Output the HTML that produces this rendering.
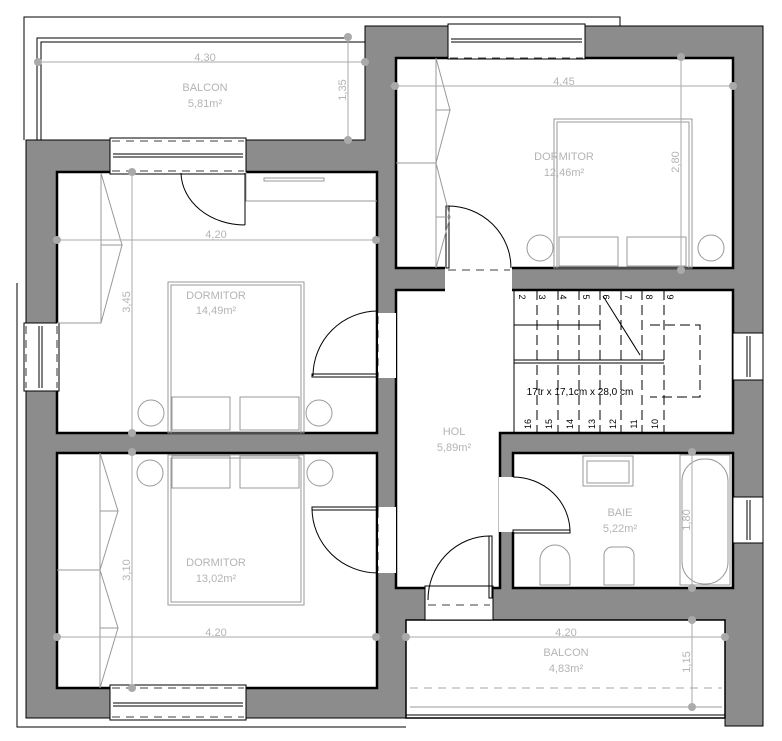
<!DOCTYPE html>
<html><head><meta charset="utf-8"><style>
html,body{margin:0;padding:0;background:#fff;}
svg{display:block;}
text{font-family:"Liberation Sans",sans-serif;fill:#b4b4b4;font-size:11px;text-anchor:middle;}
text.blk{fill:#000;font-size:9px;}
</style></head><body>
<svg width="782" height="741" viewBox="0 0 782 741" xmlns="http://www.w3.org/2000/svg">
<g fill="none" stroke="#000" stroke-width="1">
<polyline points="24,140 24,17 620,17 620,26"/>
<polyline points="17,283 17,727 406,727"/>
<polyline points="37,140 37,38 348,38"/>
<polyline points="41,140 41,42 365,42"/>
</g>
<polygon points="26,140 365,140 365,26 763,26 763,726 725,726 725,620 406,620 406,718 26,718" fill="#8c8c8c" stroke="#000" stroke-width="1"/>
<g fill="#fff" stroke="#000" stroke-width="2.5">
<rect x="57" y="172" width="320" height="261"/>
<rect x="57" y="453" width="320" height="235"/>
<rect x="396" y="58" width="337" height="210"/>
<polygon points="396,290 733,290 733,433 500,433 500,588 396,588"/>
<rect x="513" y="453" width="220" height="135"/>
</g>
<rect x="406" y="620" width="319" height="98" fill="#fff" stroke="#000" stroke-width="1.5"/>
<g fill="#fff" stroke="#000" stroke-width="1">
<rect x="110" y="138" width="136" height="36"/>
<rect x="448" y="24" width="137" height="35"/>
<rect x="24" y="323" width="35" height="68"/>
<rect x="110" y="685" width="136" height="35"/>
<rect x="733" y="333" width="30" height="47"/>
<rect x="733" y="497" width="30" height="46"/>
<rect x="378" y="313" width="18" height="65" stroke="none"/>
<rect x="378" y="507" width="18" height="66" stroke="none"/>
<rect x="445" y="266" width="67" height="26" stroke="none"/>
<rect x="499" y="477" width="16" height="55" stroke="none"/>
<rect x="425" y="586" width="68" height="34"/>
</g>
<g fill="none" stroke="#000" stroke-width="1">
<line x1="113" y1="154" x2="243" y2="154"/><line x1="113" y1="157" x2="243" y2="157"/>
<line x1="451" y1="39" x2="582" y2="39"/><line x1="451" y1="42" x2="582" y2="42"/>
<line x1="39" y1="326" x2="39" y2="388"/><line x1="42" y1="326" x2="42" y2="388"/>
<line x1="113" y1="703" x2="243" y2="703"/><line x1="113" y1="706" x2="243" y2="706"/>
<line x1="747" y1="336" x2="747" y2="377"/><line x1="750" y1="336" x2="750" y2="377"/>
<line x1="747" y1="500" x2="747" y2="540"/><line x1="750" y1="500" x2="750" y2="540"/>
</g>
<g fill="none" stroke="#000" stroke-width="0.8" stroke-dasharray="8,6">
<line x1="112" y1="141" x2="244" y2="141"/><line x1="112" y1="171" x2="244" y2="171"/>
<line x1="450" y1="58" x2="583" y2="58"/>
<line x1="112" y1="688" x2="244" y2="688"/><line x1="112" y1="717" x2="244" y2="717"/>
<line x1="26" y1="326" x2="26" y2="388"/><line x1="57" y1="326" x2="57" y2="388"/>
<line x1="378" y1="316" x2="378" y2="376"/><line x1="378" y1="510" x2="378" y2="571"/>
<line x1="448" y1="270" x2="510" y2="270"/><line x1="428" y1="605" x2="490" y2="605"/>
<line x1="410" y1="688" x2="722" y2="688" stroke="#888"/>
</g>
<g fill="none" stroke="#000" stroke-width="1">
<path d="M181,173 A64,53 0 0 0 245,225"/><line x1="245" y1="173" x2="245" y2="225"/>
<path d="M313,376 A65,65 0 0 1 378,311"/><rect x="312" y="374" width="66" height="3"/>
<path d="M312,508 A66,65 0 0 0 378,573"/><rect x="312" y="507" width="66" height="3"/>
<path d="M448,206 A63,62 0 0 1 511,268"/><rect x="446" y="206" width="3" height="62"/>
<path d="M513,477 A57,55 0 0 1 570,532"/><rect x="513" y="530" width="57" height="3"/>
<path d="M428,600 A62,64 0 0 1 490,536"/><rect x="489" y="536" width="3" height="62"/>
</g>
<g fill="none" stroke="#999" stroke-width="1">
<rect x="168" y="282" width="136" height="151"/><rect x="171" y="285" width="130" height="148"/>
<rect x="172" y="397" width="58" height="33"/><rect x="240" y="397" width="59" height="33"/>
<circle cx="151" cy="413" r="13"/><circle cx="319" cy="413" r="13"/>
<rect x="168" y="455" width="136" height="150"/><rect x="171" y="458" width="130" height="144"/>
<rect x="172" y="456" width="58" height="32"/><rect x="240" y="456" width="59" height="32"/>
<circle cx="150" cy="473" r="13"/><circle cx="320" cy="473" r="13"/>
<rect x="554" y="119" width="138" height="149"/><rect x="557" y="122" width="132" height="146"/>
<rect x="559" y="237" width="59" height="29"/><rect x="627" y="237" width="59" height="29"/>
<circle cx="540" cy="248" r="13"/><circle cx="711" cy="248" r="13"/>
<polyline points="101,173 101,323 57,323"/><polyline points="101,173 122,245 101,245 122,245 101,323"/>
<polyline points="100,453 100,688"/><polyline points="57,570 100,570"/>
<polyline points="100,453 118,511 100,511 118,511 100,570 118,628 100,628 118,628 100,688"/>
<polyline points="436,58 436,268"/><polyline points="396,163 436,163"/>
<polyline points="436,58 450,110 436,110 450,110 436,163 450,217 436,217 450,217 436,268"/>
<polyline points="246,172 246,201 377,201"/>
<rect x="264" y="178" width="60" height="3"/>
<rect x="583" y="456" width="50" height="30"/><rect x="587" y="461" width="42" height="22"/>
<rect x="680" y="455" width="50" height="130"/><rect x="682" y="459" width="46" height="125" rx="22"/>
<path d="M540,585 V560 a15,15 0 0 1 30,0 V585 Z"/>
<path d="M604,585 V555 a8,8 0 0 1 8,-8 h14 a8,8 0 0 1 8,8 V585 Z"/>
<line x1="410" y1="707" x2="722" y2="707"/><line x1="406" y1="715" x2="725" y2="715" stroke="#000"/>
</g>
<g stroke="#000" stroke-width="1" fill="none">
<line x1="514" y1="360" x2="664" y2="360"/><line x1="514" y1="363" x2="664" y2="363"/>
<line x1="514" y1="290" x2="514" y2="433"/>
<g stroke-dasharray="10,5">
<line x1="537" y1="290" x2="537" y2="433"/><line x1="558" y1="290" x2="558" y2="433"/>
<line x1="579" y1="290" x2="579" y2="433"/><line x1="600" y1="290" x2="600" y2="433"/>
<line x1="621" y1="290" x2="621" y2="433"/><line x1="642" y1="290" x2="642" y2="433"/>
<line x1="664" y1="290" x2="664" y2="433"/>
<polyline points="650,325 700,325 700,397 650,397"/>
</g>
<line x1="514" y1="325" x2="600" y2="325"/>
<line x1="603" y1="296" x2="640" y2="355"/>
</g>
<text class="blk" x="522" y="300" transform="rotate(90 522 297)">2</text>
<text class="blk" x="542" y="300" transform="rotate(90 542 297)">3</text><text class="blk" x="563" y="300" transform="rotate(90 563 297)">4</text>
<text class="blk" x="586" y="300" transform="rotate(90 586 297)">5</text><text class="blk" x="606" y="300" transform="rotate(90 606 297)">6</text>
<text class="blk" x="628" y="300" transform="rotate(90 628 297)">7</text><text class="blk" x="649" y="300" transform="rotate(90 649 297)">8</text>
<text class="blk" x="670" y="300" transform="rotate(90 670 297)">9</text>
<text class="blk" x="531" y="424" transform="rotate(-90 531 424)">16</text><text class="blk" x="552" y="424" transform="rotate(-90 552 424)">15</text>
<text class="blk" x="573" y="424" transform="rotate(-90 573 424)">14</text><text class="blk" x="595" y="424" transform="rotate(-90 595 424)">13</text>
<text class="blk" x="616" y="424" transform="rotate(-90 616 424)">12</text><text class="blk" x="637" y="424" transform="rotate(-90 637 424)">11</text>
<text class="blk" x="658" y="424" transform="rotate(-90 658 424)">10</text>
<text class="blk" x="580" y="395" style="font-size:10px">17tr x 17,1cm x 28,0 cm</text>
<g stroke="#aaa" stroke-width="1" fill="none">
<line x1="38" y1="62" x2="365" y2="62"/><line x1="348" y1="36" x2="348" y2="140"/>
<line x1="57" y1="240" x2="376" y2="240"/><line x1="132" y1="170" x2="132" y2="435"/>
<line x1="57" y1="637" x2="376" y2="637"/><line x1="132" y1="452" x2="132" y2="688"/>
<line x1="390" y1="86" x2="736" y2="86"/><line x1="681" y1="55" x2="681" y2="270"/>
<line x1="692" y1="452" x2="692" y2="589"/>
<line x1="406" y1="637" x2="725" y2="637"/><line x1="692" y1="620" x2="692" y2="707"/>
</g>
<g fill="#aaa">
<circle cx="38" cy="62" r="4"/><circle cx="365" cy="62" r="4"/><circle cx="348" cy="37" r="4"/><circle cx="348" cy="140" r="4"/>
<circle cx="57" cy="240" r="4"/><circle cx="376" cy="240" r="4"/><circle cx="132" cy="172" r="4"/><circle cx="132" cy="433" r="4"/>
<circle cx="57" cy="637" r="4"/><circle cx="376" cy="637" r="4"/><circle cx="132" cy="452" r="4"/><circle cx="132" cy="688" r="4"/>
<circle cx="395" cy="86" r="4"/><circle cx="733" cy="86" r="4"/><circle cx="681" cy="57" r="4"/><circle cx="681" cy="270" r="4"/>
<circle cx="692" cy="452" r="4"/><circle cx="692" cy="588" r="4"/>
<circle cx="406" cy="637" r="4"/><circle cx="725" cy="637" r="4"/><circle cx="692" cy="620" r="4"/><circle cx="692" cy="707" r="4"/>
</g>
<text x="205" y="61">4,30</text>
<text x="346" y="90" transform="rotate(-90 346 90)">1,35</text>
<text x="216" y="238">4,20</text>
<text x="130" y="302" transform="rotate(-90 130 302)">3,45</text>
<text x="216" y="636">4,20</text>
<text x="130" y="570" transform="rotate(-90 130 570)">3,10</text>
<text x="564" y="85">4,45</text>
<text x="679" y="162" transform="rotate(-90 679 162)">2,80</text>
<text x="690" y="520" transform="rotate(-90 690 520)">1,80</text>
<text x="566" y="636">4,20</text>
<text x="690" y="662" transform="rotate(-90 690 662)">1,15</text>
<text x="205" y="91">BALCON</text><text x="205" y="107">5,81m²</text>
<text x="216" y="299">DORMITOR</text><text x="216" y="314">14,49m²</text>
<text x="216" y="566">DORMITOR</text><text x="216" y="582">13,02m²</text>
<text x="564" y="160">DORMITOR</text><text x="564" y="176">12,46m²</text>
<text x="454" y="435">HOL</text><text x="454" y="451">5,89m²</text>
<text x="620" y="516">BAIE</text><text x="620" y="532">5,22m²</text>
<text x="566" y="656">BALCON</text><text x="566" y="672">4,83m²</text>
</svg>
</body></html>
